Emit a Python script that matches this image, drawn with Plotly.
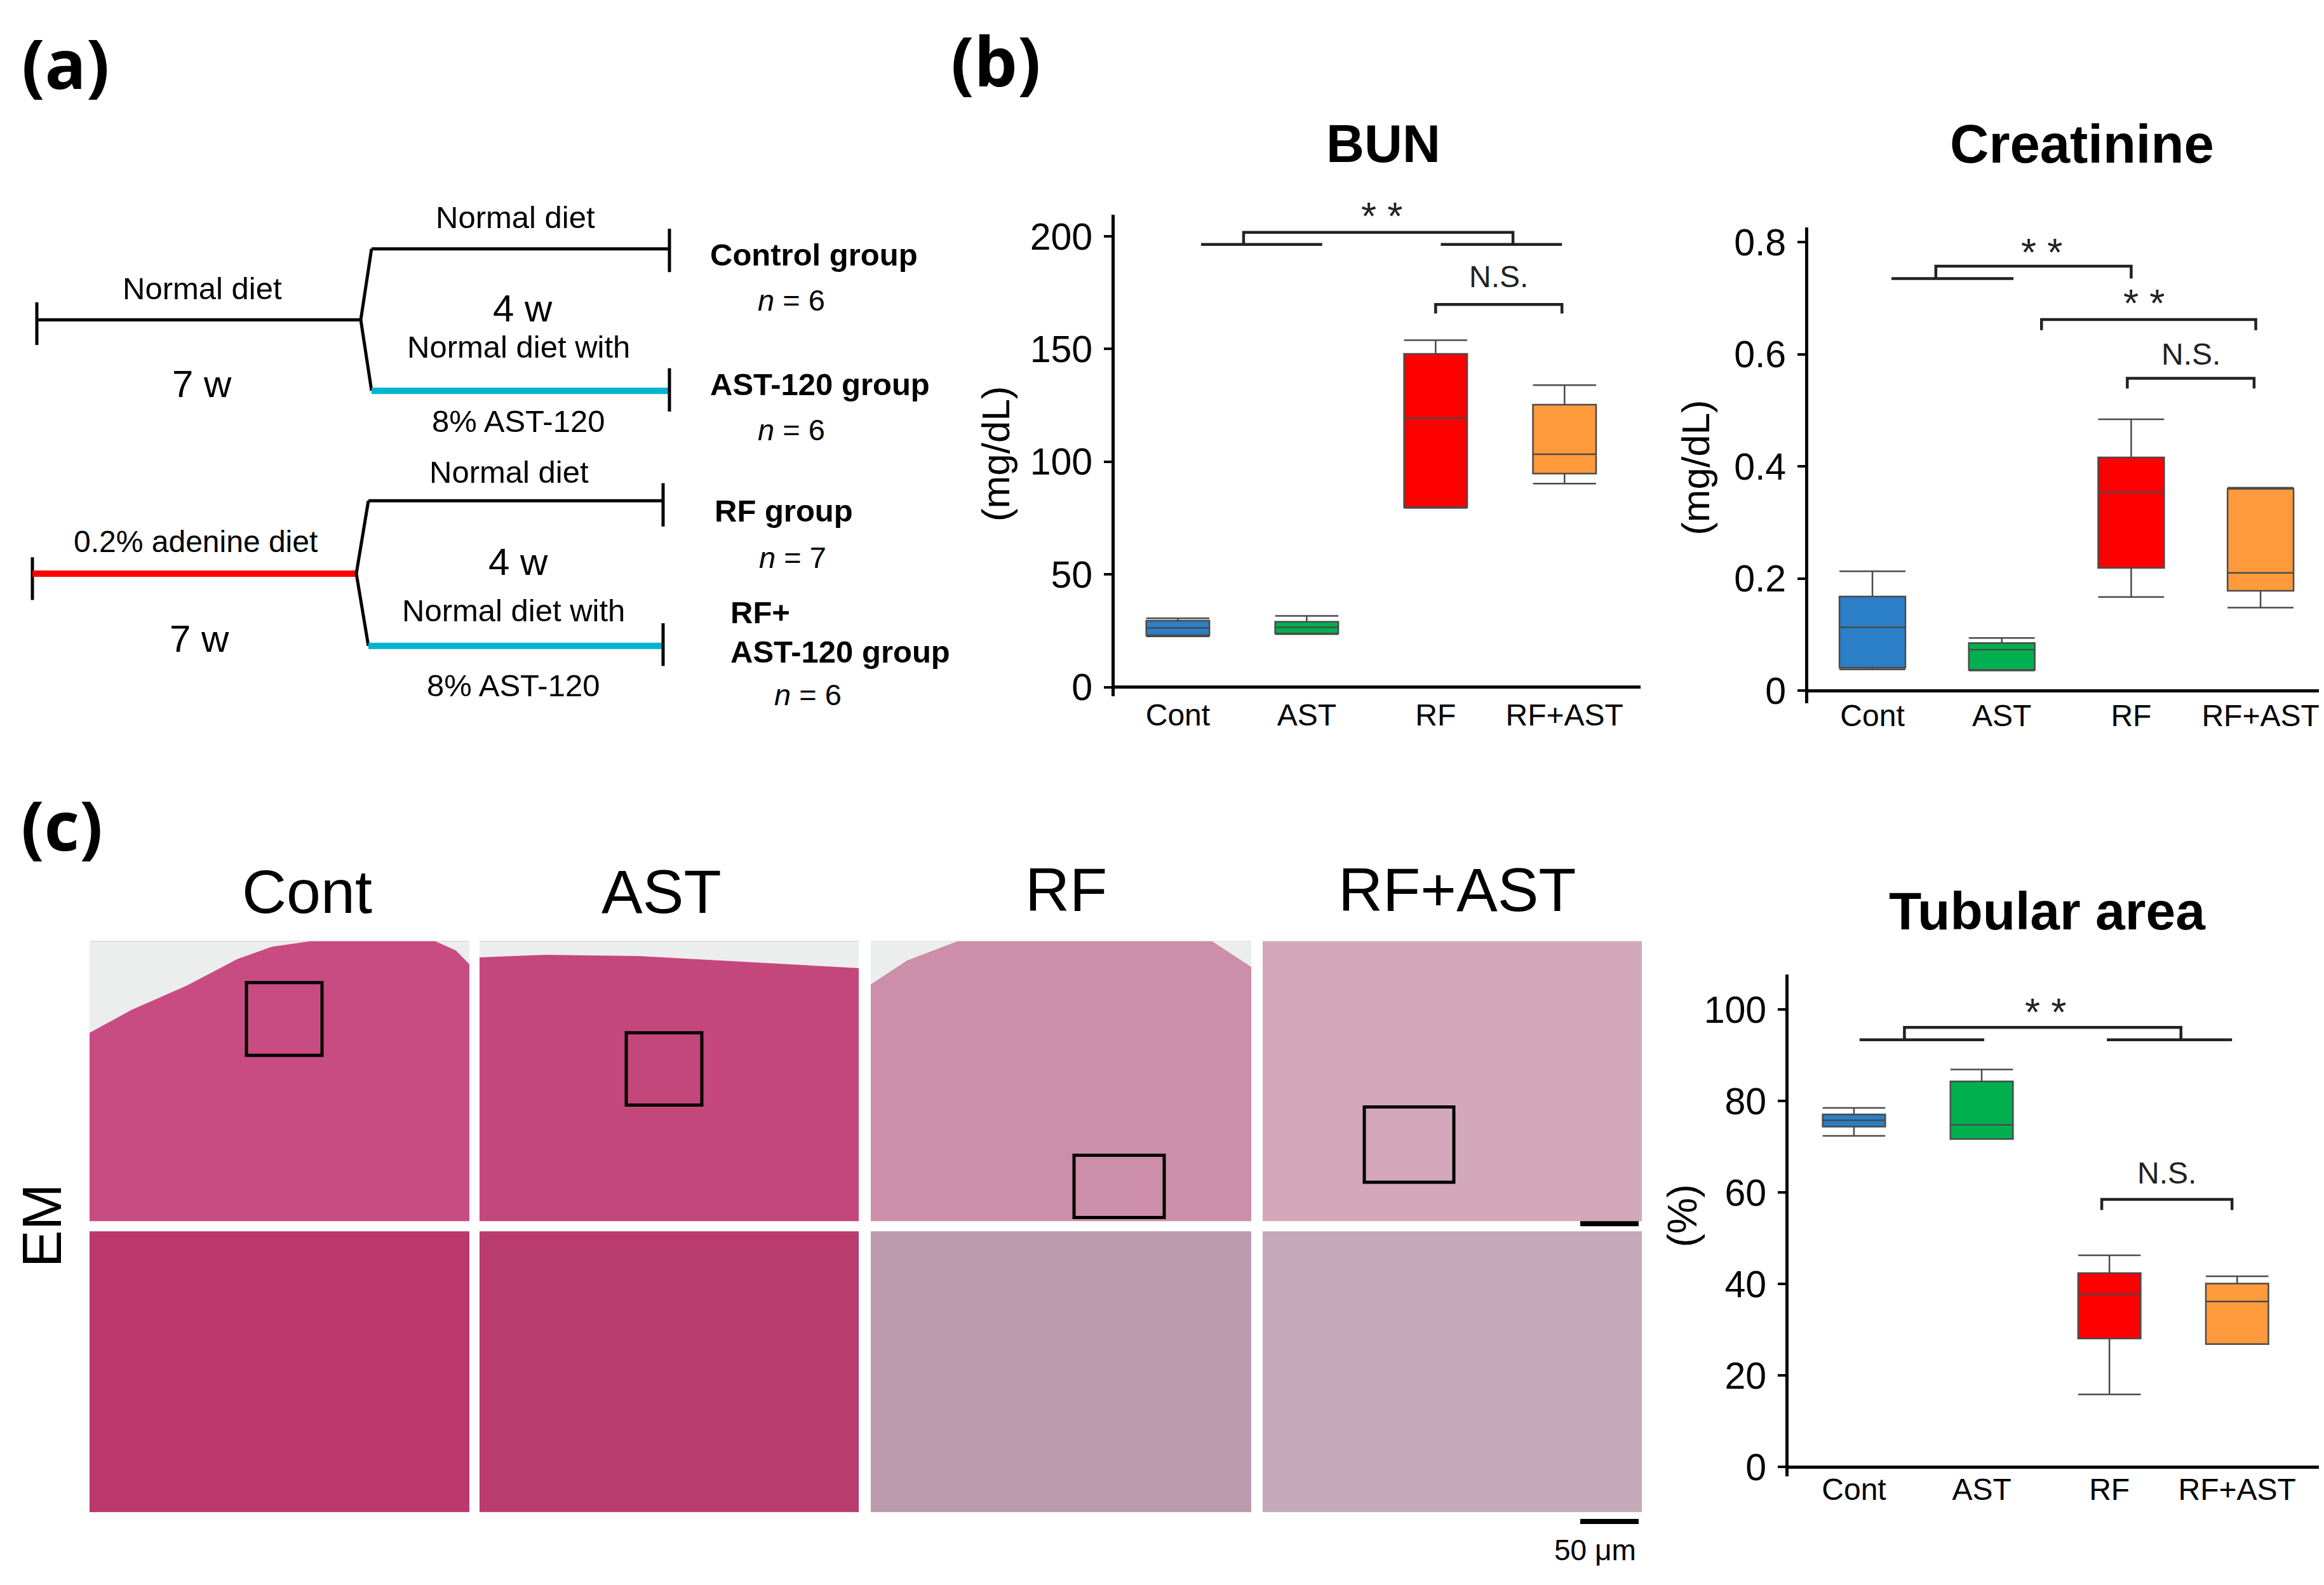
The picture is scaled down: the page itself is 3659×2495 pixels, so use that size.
import plotly.graph_objects as go

W, H = 3659, 2495
FONT = "Liberation Sans, Arial, sans-serif"

# ---- data ----
groups = ["Cont", "AST", "RF", "RF+AST"]
box_colors = ["#2a7fc6", "#00b04f", "#ff0000", "#ff9a3c"]

bun_lower = [22.5, 23.5, 79.5, 90.3]
bun_q1 = [23.0, 23.8, 79.8, 94.7]
bun_median = [26.2, 26.5, 119.3, 103.3]
bun_q3 = [29.5, 29.0, 147.9, 125.3]
bun_upper = [30.5, 31.6, 153.9, 134.0]

cre_lower = [0.038, 0.036, 0.167, 0.148]
cre_q1 = [0.041, 0.037, 0.219, 0.178]
cre_median = [0.113, 0.073, 0.354, 0.210]
cre_q3 = [0.168, 0.085, 0.416, 0.360]
cre_upper = [0.213, 0.094, 0.484, 0.362]

tub_lower = [72.4, 71.7, 15.9, 26.9]
tub_q1 = [74.4, 71.7, 28.1, 26.9]
tub_median = [75.8, 74.8, 37.8, 36.2]
tub_q3 = [77.1, 84.3, 42.4, 40.1]
tub_upper = [78.5, 86.9, 46.3, 41.7]

bun_ticks = [0, 50, 100, 150, 200]
cre_ticks = [0, 0.2, 0.4, 0.6, 0.8]
cre_ticktext = ["0", "0.2", "0.4", "0.6", "0.8"]
tub_ticks = [0, 20, 40, 60, 80, 100]


def X(p):
    return p / W


def Y(p):
    return 1 - p / H


fig = go.Figure()

panels = [
    ("x", "y", bun_lower, bun_q1, bun_median, bun_q3, bun_upper, 0.49),
    ("x2", "y2", cre_lower, cre_q1, cre_median, cre_q3, cre_upper, 0.51),
    ("x3", "y3", tub_lower, tub_q1, tub_median, tub_q3, tub_upper, 0.49),
]
for xa, ya, lo, q1, med, q3, up, bw in panels:
    for i, g in enumerate(groups):
        fig.add_trace(go.Box(
            x=[i], lowerfence=[lo[i]], q1=[q1[i]], median=[med[i]], q3=[q3[i]],
            upperfence=[up[i]], name=g, width=bw, whiskerwidth=1,
            fillcolor=box_colors[i], line=dict(color="#4a4a4a", width=2.5),
            boxpoints=False, showlegend=False, hoverinfo="skip",
            xaxis=xa, yaxis=ya))


def xaxis_px(x0, x1, rng, pos):
    return dict(domain=[X(x0), X(x1)], range=rng, anchor="free", position=Y(pos),
                tickvals=list(range(len(groups))), ticktext=groups,
                showline=False, showgrid=False, zeroline=False, ticks="",
                tickfont=dict(size=48, color="black", family=FONT))


def yaxis_px(top, bot, rng, tickvals, ticktext, xname):
    return dict(domain=[Y(bot), Y(top)], range=rng, anchor=xname,
                showline=True, linecolor="black", linewidth=5,
                ticks="outside", ticklen=12, tickwidth=4, tickcolor="black",
                tickvals=tickvals, ticktext=ticktext, ticklabelstandoff=6,
                tickfont=dict(size=59, color="black", family=FONT),
                showgrid=False, zeroline=True, zerolinecolor="black", zerolinewidth=5)


shapes = []
annotations = []


def seg(x0, y0, x1, y1, color="black", width=5):
    shapes.append(dict(type="line", xref="paper", yref="paper",
                       x0=X(x0), y0=Y(y0), x1=X(x1), y1=Y(y1),
                       line=dict(color=color, width=width)))


def rect(x0, y0, x1, y1, fill=None, line_color=None, width=0):
    shapes.append(dict(type="rect", xref="paper", yref="paper",
                       x0=X(x0), y0=Y(y0), x1=X(x1), y1=Y(y1),
                       fillcolor=fill if fill else "rgba(0,0,0,0)",
                       line=dict(color=line_color if line_color else "rgba(0,0,0,0)", width=width),
                       layer="below" if fill else "above"))


def poly(points, fill):
    d = "M " + " L ".join(f"{X(a):.5f},{Y(b):.5f}" for a, b in points) + " Z"
    shapes.append(dict(type="path", xref="paper", yref="paper", path=d,
                       fillcolor=fill, line=dict(width=0), layer="below"))


def text(x, y, t, size, xanchor="center", angle=0, family=FONT, color="black"):
    annotations.append(dict(x=X(x), y=Y(y), xref="paper", yref="paper", text=t,
                            showarrow=False, xanchor=xanchor, yanchor="middle",
                            textangle=angle, font=dict(size=size, family=family, color=color)))


def bracket(xa, ya, x0, x1, ylow, yhigh, w=4.5):
    shapes.append(dict(type="path", xref=xa, yref=ya,
                       path=f"M {x0},{ylow} L {x0},{yhigh} L {x1},{yhigh} L {x1},{ylow}",
                       line=dict(color="#222222", width=w)))


def hline(xa, ya, x0, x1, yv, w=4.5):
    shapes.append(dict(type="line", xref=xa, yref=ya, x0=x0, x1=x1, y0=yv, y1=yv,
                       line=dict(color="#222222", width=w)))


def data_text(xa, ya, x, y, t, size):
    annotations.append(dict(x=x, y=y, xref=xa, yref=ya, text=t, showarrow=False,
                            xanchor="center", yanchor="middle",
                            font=dict(size=size, family=FONT, color="#222222")))


# ---- panel labels ----
text(95, 82, "<b>(a)</b>", 108, family="Open Sans, " + FONT)
text(1560, 78, "<b>(b)</b>", 108, family="Open Sans, " + FONT)
text(89, 1295, "<b>(c)</b>", 108, family="Open Sans, " + FONT)

# ---- panel (a): study design ----
CYAN = "#00b4cf"
# upper scheme
seg(50, 464, 50, 532)
seg(50, 492, 560, 492)
seg(560, 492, 577, 379)
seg(560, 492, 577, 605)
seg(577, 379, 1046, 379)
seg(1046, 347, 1046, 416)
seg(577, 605, 1046, 605, color=CYAN, width=10)
seg(1046, 569, 1046, 638)
# lower scheme
seg(43, 870, 43, 938)
seg(43, 896, 553, 896, color="#ff0000", width=10)
seg(553, 896, 572, 780)
seg(553, 896, 572, 1011)
seg(572, 780, 1036, 780)
seg(1036, 752, 1036, 821)
seg(572, 1011, 1036, 1011, color=CYAN, width=10)
seg(1036, 975, 1036, 1043)

text(803, 329, "Normal diet", 49)
text(310, 442, "Normal diet", 49)
text(815, 474, "4 w", 60)
text(808, 535, "Normal diet with", 49)
text(808, 653, "8% AST-120", 49)
text(310, 594, "7 w", 60)
text(1108, 388, "<b>Control group</b>", 49, xanchor="left")
text(1238, 461, "<i>n</i> = 6", 47)
text(1108, 595, "<b>AST-120 group</b>", 49, xanchor="left")
text(1238, 667, "<i>n</i> = 6", 47)

text(793, 734, "Normal diet", 49)
text(300, 845, "0.2% adenine diet", 48)
text(808, 877, "4 w", 60)
text(800, 955, "Normal diet with", 49)
text(800, 1074, "8% AST-120", 49)
text(306, 1000, "7 w", 60)
text(1115, 796, "<b>RF group</b>", 49, xanchor="left")
text(1240, 870, "<i>n</i> = 7", 47)
text(1140, 958, "<b>RF+</b>", 49, xanchor="left")
text(1140, 1020, "<b>AST-120 group</b>", 49, xanchor="left")
text(1264, 1089, "<i>n</i> = 6", 47)

# ---- panel (b)/(c) plot titles and axis titles ----
text(2170, 212, "<b>BUN</b>", 83)
text(3270, 212, "<b>Creatinine</b>", 85)
text(3215, 1433, "<b>Tubular area</b>", 84)
text(1559, 705, "(mg/dL)", 62, angle=-90)
text(2662, 727, "(mg/dL)", 62, angle=-90)
text(2641, 1918, "(%)", 64, angle=-90)

# significance marks: BUN
hline("x", "y", 0.18, 1.12, 196.4)
hline("x", "y", 2.04, 2.98, 196.4)
bracket("x", "y", 0.51, 2.6, 196.4, 201.8)
bracket("x", "y", 2.0, 2.98, 165.8, 169.8)
data_text("x", "y", 1.58, 209.2, "* *", 62)
data_text("x", "y", 2.49, 182.0, "N.S.", 48)

# Creatinine
hline("x2", "y2", 0.147, 1.09, 0.735)
bracket("x2", "y2", 0.49, 2.0, 0.735, 0.757)
bracket("x2", "y2", 1.307, 2.963, 0.643, 0.662)
bracket("x2", "y2", 1.97, 2.95, 0.539, 0.557)
data_text("x2", "y2", 1.31, 0.782, "* *", 62)
data_text("x2", "y2", 2.1, 0.692, "* *", 62)
data_text("x2", "y2", 2.46, 0.600, "N.S.", 48)

# Tubular area
hline("x3", "y3", 0.044, 1.02, 93.4)
hline("x3", "y3", 1.98, 2.96, 93.4)
bracket("x3", "y3", 0.395, 2.56, 93.4, 96.1)
bracket("x3", "y3", 1.94, 2.96, 56.2, 58.5)
data_text("x3", "y3", 1.5, 99.6, "* *", 62)
data_text("x3", "y3", 2.45, 64.3, "N.S.", 48)

# ---- panel (c): histology tiles (flat approximations) ----
cols = [(133, 731), (747, 1344), (1363, 1962), (1980, 2577)]
top_row = (1481, 1927)
bot_row = (1943, 2390)
top_fill = ["#c84c82", "#c4477c", "#cc8ea9", "#d3a8ba"]
bot_fill = ["#bb376c", "#ba3b6d", "#bc9aae", "#c5a9b9"]
for (c0, c1), tf, bf in zip(cols, top_fill, bot_fill):
    rect(c0, top_row[0], c1, top_row[1], fill=tf)
    rect(c0, bot_row[0], c1, bot_row[1], fill=bf)

BG = "#eceeed"
poly([(133, 1481), (133, 1627), (200, 1590), (286, 1552), (365, 1510), (420, 1490), (482, 1481)], BG)
poly([(677, 1481), (731, 1481), (731, 1518), (710, 1496)], BG)
poly([(747, 1481), (1344, 1481), (1344, 1524), (1200, 1516), (1000, 1505), (850, 1503), (747, 1507)], BG)
poly([(1363, 1481), (1363, 1550), (1420, 1512), (1500, 1481)], BG)
poly([(1900, 1481), (1962, 1481), (1962, 1522)], BG)

# zoomed-area frames
rect(380, 1547, 499, 1663, line_color="black", width=5)
rect(978, 1627, 1097, 1742, line_color="black", width=5)
rect(1683, 1822, 1825, 1921, line_color="black", width=5)
rect(2140, 1745, 2281, 1865, line_color="black", width=5)

# scale bars
seg(2480, 1931, 2572, 1931, width=8)
seg(2480, 2405, 2572, 2405, width=8)
text(2503, 2450, "50 μm", 46)

text(475, 1402, "Cont", 97)
text(1033, 1402, "AST", 97)
text(1670, 1399, "RF", 97)
text(2286, 1399, "RF+AST", 97)
text(57, 1934, "EM", 88, angle=-90)

fig.update_layout(
    width=W, height=H,
    margin=dict(l=0, r=0, t=0, b=0),
    paper_bgcolor="white", plot_bgcolor="white",
    showlegend=False, boxmode="overlay",
    font=dict(family=FONT, color="black"),
    xaxis=xaxis_px(1747, 2575, [-0.49, 3.59], 1088),
    yaxis=yaxis_px(325, 1091, [-4, 209.5], bun_ticks, [str(t) for t in bun_ticks], "x"),
    xaxis2=xaxis_px(2839, 3655, [-0.496, 3.51], 1089),
    yaxis2=yaxis_px(345, 1102, [-0.022, 0.826], cre_ticks, cre_ticktext, "x2"),
    xaxis3=xaxis_px(2808, 3655, [-0.512, 3.70], 2321),
    yaxis3=yaxis_px(1534, 2333, [-2, 107.7], tub_ticks, [str(t) for t in tub_ticks], "x3"),
    shapes=shapes,
    annotations=annotations,
)

fig.write_html("out.html")
